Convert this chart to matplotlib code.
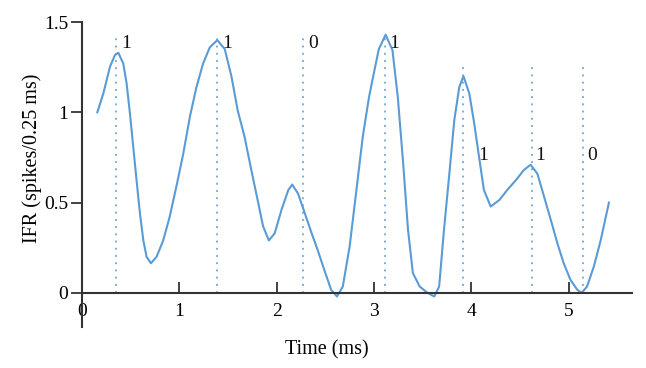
import numpy as np
import matplotlib.pyplot as plt

# IFR curve
t = [0.157, 0.219, 0.287, 0.338, 0.373, 0.424, 0.458, 0.492, 0.526, 0.56, 0.595, 0.63,
     0.663, 0.708, 0.766, 0.834, 0.90, 0.97, 1.04, 1.11, 1.176, 1.244, 1.313, 1.39, 1.467,
     1.535, 1.60, 1.67, 1.74, 1.81, 1.86, 1.92, 1.98, 2.05, 2.12, 2.16, 2.22, 2.29, 2.36,
     2.42, 2.49, 2.56, 2.62, 2.68, 2.75, 2.82, 2.885, 2.95, 3.00, 3.05, 3.12, 3.19, 3.245,
     3.30, 3.35, 3.40, 3.47, 3.55, 3.62, 3.67, 3.72, 3.775, 3.826, 3.877, 3.92, 3.98, 4.03,
     4.08, 4.13, 4.20, 4.29, 4.37, 4.46, 4.54, 4.61, 4.68, 4.75, 4.82, 4.885, 4.95, 5.02,
     5.09, 5.135, 5.19, 5.26, 5.33, 5.415]
ifr = [1.00, 1.105, 1.252, 1.317, 1.33, 1.27, 1.16, 0.995, 0.81, 0.625, 0.44, 0.29,
       0.20, 0.164, 0.20, 0.29, 0.42, 0.59, 0.77, 0.98, 1.14, 1.27, 1.36, 1.40, 1.35,
       1.20, 1.01, 0.865, 0.68, 0.50, 0.37, 0.29, 0.33, 0.46, 0.57, 0.60, 0.55, 0.44, 0.33,
       0.24, 0.127, 0.017, -0.02, 0.035, 0.256, 0.57, 0.865, 1.086, 1.22, 1.35, 1.43, 1.345, 1.086,
       0.72, 0.35, 0.11, 0.035, 0.0, -0.02, 0.035, 0.35, 0.66, 0.957, 1.14, 1.20, 1.105, 0.94,
       0.754, 0.57, 0.478, 0.515, 0.57, 0.625, 0.68, 0.71, 0.66, 0.53, 0.40, 0.275, 0.164, 0.072,
       0.017, 0.0, 0.035, 0.146, 0.29, 0.50]

# spike markers
spike_t = [0.35, 1.385, 2.27, 3.11, 3.92, 4.62, 5.15]
spike_top = [1.44, 1.44, 1.44, 1.44, 1.28, 1.28, 1.28]
bits = ['1', '1', '0', '1', '1', '1', '0']
bit_x = [0.45, 1.49, 2.37, 3.21, 4.12, 4.71, 5.24]
bit_y = [1.38, 1.38, 1.38, 1.38, 0.76, 0.76, 0.76]

plt.rcParams['font.family'] = ['Liberation Serif', 'DejaVu Serif']

fig = plt.figure(figsize=(6.46, 3.68), dpi=100)
ax = fig.add_axes([0.127, 0.111, 0.851, 0.829])

blue = '#5b9bd5'
ax.plot(t, ifr, color=blue, lw=1.5, solid_joinstyle='round')
for xs, top in zip(spike_t, spike_top):
    ax.plot([xs, xs], [0, top], color=blue, lw=1.3, ls=(0, (1, 3)), alpha=0.9)
for bx, by, s in zip(bit_x, bit_y, bits):
    ax.text(bx, by, s, fontsize=14, ha='center', va='center', color='#111111')

ax.set_xlim(0, 5.65)
ax.set_ylim(-0.19, 1.5)
ax.spines['top'].set_visible(False)
ax.spines['right'].set_visible(False)
ax.spines['bottom'].set_position(('data', 0))
ax.spines['left'].set_bounds(-0.19, 1.5)
for s in ['bottom', 'left']:
    ax.spines[s].set_color('#333333')
    ax.spines[s].set_linewidth(1.5)

ax.set_xticks([0, 1, 2, 3, 4, 5])
ax.set_xticklabels(['0', '1', '2', '3', '4', '5'])
ax.set_yticks([0, 0.5, 1, 1.5])
ax.set_yticklabels(['0', '0.5', '1', '1.5'])
ax.tick_params(axis='x', direction='in', length=8, width=1.3, color='#333333', labelsize=14, pad=7)
ax.tick_params(axis='y', direction='out', length=8, width=1.3, color='#333333', labelsize=14, pad=2)

ax.set_xlabel('Time (ms)', fontsize=14.5, va='center')
ax.xaxis.set_label_coords(0.445, -0.075)
ax.set_ylabel('IFR (spikes/0.25 ms)', fontsize=14.5, va='center')
ax.yaxis.set_label_coords(-0.091, 0.555)

fig.savefig('out.png', dpi=100)
